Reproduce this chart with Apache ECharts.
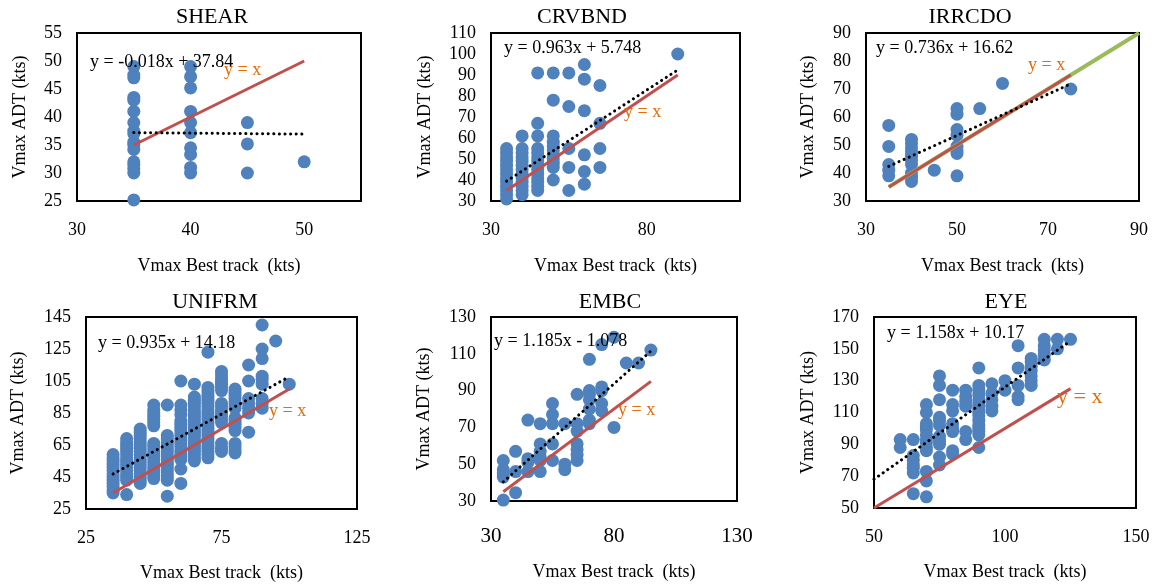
<!DOCTYPE html>
<html><head><meta charset="utf-8">
<script src="https://cdn.jsdelivr.net/npm/echarts@6/dist/echarts.min.js"></script>
<style>html,body{margin:0;padding:0;background:#fff}#c{width:1155px;height:587px}</style>
</head><body><div id="c"></div>
<script>
// ---------- DATA (columns: [bestTrack, [ADT values...]]) ----------
const titles = ['SHEAR', 'CRVBND', 'IRRCDO', 'UNIFRM', 'EMBC', 'EYE'];
const equations = ['y = -0.018x + 37.84', 'y = 0.963x + 5.748', 'y = 0.736x + 16.62',
                   'y = 0.935x + 14.18', 'y = 1.185x - 1.078', 'y = 1.158x + 10.17'];
const fitCoef = [[-0.018, 37.84], [0.963, 5.748], [0.736, 16.62], [0.935, 14.18], [1.185, -1.078], [1.158, 10.17]];
const fitRange = [[35, 50], [35, 90], [35, 75], [35, 100], [35, 95], [50, 125]];
const identityRange = [[35, 50], [35, 90], [35, 75], [35, 100], [35, 95], [50, 125]];
const greenRange = [35, 90]; // IRRCDO only

const shearCols = [
  [35, [49, 47.5, 47, 43.5, 43, 41, 39, 37.5, 37, 35.5, 35, 34.2, 32, 31.5, 30.8, 30, 25.2]],
  [40, [49, 47.2, 45.2, 41, 39, 37.2, 34.5, 33.3, 31, 30]],
  [45, [39, 35.2, 30]],
  [50, [32]]
];
const crvbndCols = [
  [35, [31, 33, 35, 37, 39, 41, 43, 45, 47, 49, 51, 53, 55]],
  [40, [33, 35, 37, 39, 41, 43, 45, 47, 49, 51, 53, 55, 61]],
  [45, [35, 37, 39, 41, 43, 45, 47, 49, 51, 53, 55, 61, 67, 91]],
  [50, [40, 46, 48, 50, 52, 54, 56, 58, 61, 78, 91]],
  [55, [35, 46, 55, 75, 91]],
  [60, [38, 44, 52, 73, 88, 95]],
  [65, [46, 55, 67, 85]],
  [90, [100]]
];
const irrcdoCols = [
  [35, [39, 41, 43, 49.5, 57]],
  [40, [37, 38.5, 40, 43, 44.5, 46, 47.5, 49, 50.5, 52]],
  [45, [41]],
  [50, [39, 47, 48, 49.5, 53.5, 55.5, 61, 63]],
  [55, [63]],
  [60, [72]],
  [75, [70]]
];
const unifrmCols = [
  [35, [35, 37, 39, 41, 43, 45, 47, 49, 51, 53, 55, 57, 59]],
  [40, [34, 43, 45, 47, 49, 51, 53, 55, 57, 59, 61, 63, 65, 67, 69]],
  [45, [41, 43, 45, 47, 49, 51, 53, 55, 57, 59, 61, 63, 65, 67, 69, 71, 73, 75]],
  [50, [44, 46, 48, 50, 52, 54, 56, 58, 60, 62, 64, 66, 77, 79, 81, 83, 85, 87, 90]],
  [55, [33, 43, 45, 47, 49, 51, 53, 55, 57, 59, 61, 63, 65, 67, 69, 71, 90]],
  [60, [41, 50, 56, 58, 60, 62, 64, 66, 68, 70, 72, 74, 76, 78, 80, 84, 87, 90, 105]],
  [65, [55, 57, 59, 61, 63, 65, 67, 69, 71, 73, 75, 77, 79, 81, 83, 85, 87, 89, 91, 93, 95, 103]],
  [70, [57, 59, 61, 63, 65, 67, 69, 71, 73, 75, 77, 79, 81, 83, 85, 87, 89, 91, 93, 95, 97, 99, 101, 123]],
  [75, [61, 63, 66, 79, 81, 83, 85, 87, 89, 91, 99, 101, 103, 105, 107, 109, 111]],
  [80, [60, 62, 64, 66, 74, 76, 78, 80, 82, 88, 90, 92, 94, 96, 98, 100]],
  [85, [73, 85, 88, 91, 94, 105, 115]],
  [90, [88, 91, 94, 103, 106, 108, 119, 125, 140]],
  [95, [130]],
  [100, [103]]
];
const embcCols = [
  [35, [30.5, 43, 45, 47, 52]],
  [40, [34.5, 46, 57]],
  [45, [46, 51, 53, 74]],
  [50, [46, 52, 54, 57, 61, 72]],
  [55, [52, 61, 72, 77, 83]],
  [60, [47, 50, 72]],
  [65, [52, 55, 58, 61, 68, 72, 88]],
  [70, [72, 74, 80, 85, 88, 90, 107]],
  [75, [79, 83, 90, 92, 115]],
  [80, [70, 119]],
  [85, [105]],
  [90, [105]],
  [95, [112]]
];
const eyeCols = [
  [60, [88, 93]],
  [65, [59, 72, 75, 77, 80, 83, 93]],
  [70, [57, 67, 73, 86, 88, 91, 93, 96, 99, 101, 103, 110, 115]],
  [75, [77, 82, 90, 92, 95, 102, 105, 107, 118, 127, 133]],
  [80, [84, 86, 98, 100, 103, 111, 115, 124]],
  [85, [93, 98, 114, 117, 120, 124]],
  [90, [88, 96, 98, 100, 102, 105, 108, 110, 112, 114, 116, 118, 121, 124, 127, 138]],
  [95, [111, 114, 118, 122, 128]],
  [100, [124, 130]],
  [105, [118, 120, 127, 138, 152]],
  [110, [127, 130, 133, 136, 139, 142, 144]],
  [115, [143, 146, 149, 152, 156]],
  [120, [150, 156]],
  [125, [156]]
];
const allCols = [shearCols, crvbndCols, irrcdoCols, unifrmCols, embcCols, eyeCols];

// axis ranges [min, max, interval]
const xAxisRange = [[30, 55, 10], [30, 110, 50], [30, 90, 20], [25, 125, 50], [30, 130, 50], [50, 150, 50]];
const yAxisRange = [[25, 55, 5], [30, 110, 10], [30, 90, 10], [25, 145, 20], [30, 130, 20], [50, 170, 20]];

// ---------- LAYOUT ----------
const FONT = 'Liberation Serif';
const grids = [
  {left: 77, top: 33, width: 284, height: 168},
  {left: 491, top: 33, width: 249, height: 168},
  {left: 866, top: 33, width: 273, height: 168},
  {left: 86, top: 317, width: 271, height: 192},
  {left: 491, top: 317, width: 246, height: 184},
  {left: 874, top: 317, width: 262, height: 191}
];
const titlePos = [[212, 17], [582, 17], [970, 17], [215, 302], [610, 302], [1006, 302]];
const eqPos = [[90, 62], [504, 48], [876, 48], [98, 343], [494, 341], [887, 333]];
const yxPos = [[224, 70], [624, 112], [1028, 65], [269, 411], [618, 410], [1057, 397]];
const yxSize = [18, 18, 18, 18, 18, 22];
const xLabelSize = [18, 18, 18, 18, 21, 18];
const xLabelMargin = [20, 20, 20, 20, 25, 20];
const xNameGap = [56, 56, 56, 55, 62, 55];
const yNameGap = [48, 57, 49, 59, 58, 57];

const BLUE = '#4F81BD', RED = '#C0504D', ORANGE = '#E46C0A', GREEN = '#9BBB59';

const option = {
  backgroundColor: '#fff',
  animation: false,
  grid: grids.map(g => Object.assign({show: true, borderColor: '#000', borderWidth: 2, backgroundColor: '#fff', containLabel: false}, g)),
  xAxis: xAxisRange.map((r, i) => ({
    type: 'value', gridIndex: i, min: r[0], max: r[1], interval: r[2],
    axisLine: {show: false}, axisTick: {show: false}, splitLine: {show: false},
    axisLabel: {color: '#000', fontFamily: FONT, fontSize: xLabelSize[i], margin: xLabelMargin[i], showMaxLabel: (r[1] - r[0]) % r[2] === 0},
    name: 'Vmax Best track  (kts)', nameLocation: 'middle', nameGap: xNameGap[i],
    nameTextStyle: {color: '#000', fontFamily: FONT, fontSize: 18}
  })),
  yAxis: yAxisRange.map((r, i) => ({
    type: 'value', gridIndex: i, min: r[0], max: r[1], interval: r[2],
    axisLine: {show: false}, axisTick: {show: false}, splitLine: {show: false},
    axisLabel: {color: '#000', fontFamily: FONT, fontSize: 18, margin: 15},
    name: 'Vmax ADT (kts)', nameLocation: 'middle', nameGap: yNameGap[i],
    nameTextStyle: {color: '#000', fontFamily: FONT, fontSize: 18}
  })),
  series: [],
  graphic: []
};

allCols.forEach((cols, i) => {
  const pts = [];
  cols.forEach(c => c[1].forEach(v => pts.push([c[0], v])));
  option.series.push({
    type: 'scatter', xAxisIndex: i, yAxisIndex: i, data: pts,
    symbol: 'circle', symbolSize: 13, itemStyle: {color: BLUE, opacity: 1}, silent: true, z: 2
  });
  if (i === 2) {
    option.series.push({
      type: 'line', xAxisIndex: i, yAxisIndex: i, data: [[greenRange[0], greenRange[0]], [greenRange[1], greenRange[1]]],
      symbol: 'none', lineStyle: {color: GREEN, width: 4}, silent: true, z: 3
    });
  }
  const ir = identityRange[i];
  option.series.push({
    type: 'line', xAxisIndex: i, yAxisIndex: i, data: [[ir[0], ir[0]], [ir[1], ir[1]]],
    symbol: 'none', lineStyle: {color: RED, width: 3}, silent: true, z: 4
  });
  const fr = fitRange[i], fc = fitCoef[i];
  option.series.push({
    type: 'line', xAxisIndex: i, yAxisIndex: i,
    data: [[fr[0], fc[0] * fr[0] + fc[1]], [fr[1], fc[0] * fr[1] + fc[1]]],
    symbol: 'none', lineStyle: {color: '#000', width: 3, type: [0.1, 5.5], cap: 'round'}, silent: true, z: 5
  });
  option.graphic.push({
    type: 'text', x: titlePos[i][0], y: titlePos[i][1], z: 10,
    style: {text: titles[i], font: '22px "' + FONT + '"', fill: '#000', textAlign: 'center', textVerticalAlign: 'middle'}
  });
  option.graphic.push({
    type: 'text', x: eqPos[i][0], y: eqPos[i][1], z: 10,
    style: {text: equations[i], font: '18px "' + FONT + '"', fill: '#000', textAlign: 'left', textVerticalAlign: 'middle'}
  });
  option.graphic.push({
    type: 'text', x: yxPos[i][0], y: yxPos[i][1], z: 10,
    style: {text: 'y = x', font: yxSize[i] + 'px "' + FONT + '"', fill: ORANGE, textAlign: 'left', textVerticalAlign: 'middle'}
  });
});

const chart = echarts.init(document.getElementById('c'), null, {renderer: 'canvas'});
chart.setOption(option);
</script></body></html>
